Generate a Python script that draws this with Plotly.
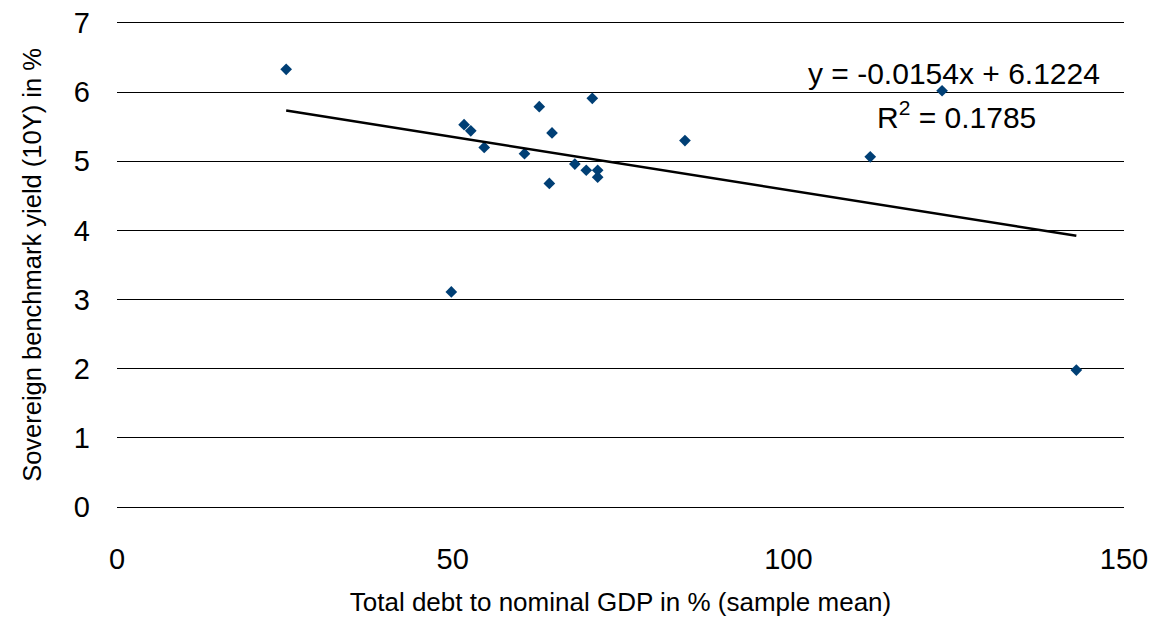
import plotly.graph_objects as go

# Data
debt_to_gdp = [25.2, 49.8, 51.7, 52.7, 54.7, 60.7, 62.9, 64.4, 64.8, 68.2,
               69.9, 70.8, 71.6, 71.6, 84.6, 112.2, 122.9, 142.9]
yield_10y = [6.33, 3.11, 5.53, 5.44, 5.20, 5.11, 5.79, 4.68, 5.41, 4.96,
             4.87, 5.91, 4.87, 4.77, 5.30, 5.065, 6.02, 1.98]

trend_slope = -0.0154
trend_intercept = 6.1224
r_squared = 0.1785

x_ticks = [0, 50, 100, 150]
y_ticks = [0, 1, 2, 3, 4, 5, 6, 7]

FONT = "Liberation Sans, Arial, sans-serif"

x_min, x_max = min(debt_to_gdp), max(debt_to_gdp)
trend_x = [x_min, x_max]
trend_y = [trend_intercept + trend_slope * v for v in trend_x]

fig = go.Figure()
fig.add_trace(go.Scatter(
    x=debt_to_gdp, y=yield_10y, mode="markers",
    marker=dict(symbol="diamond", size=9, color="#003F75", line=dict(width=0)),
    showlegend=False, hoverinfo="x+y",
))
fig.add_trace(go.Scatter(
    x=trend_x, y=trend_y, mode="lines",
    line=dict(color="#000000", width=2.5),
    showlegend=False, hoverinfo="skip",
))

fig.update_layout(
    width=1155, height=617,
    margin=dict(l=117, r=31, t=23, b=110, pad=0, autoexpand=False),
    paper_bgcolor="white", plot_bgcolor="white",
    font=dict(family=FONT, color="#000000"),
    xaxis=dict(
        range=[0, 150], tickvals=x_ticks, showgrid=False, zeroline=False,
        showline=True, mirror=True, linecolor="#000000", linewidth=1.2,
        ticks="", ticklabelstandoff=26, automargin=False,
        tickfont=dict(size=29),
        title=dict(text="Total debt to nominal GDP in % (sample mean)",
                   font=dict(size=26), standoff=32),
    ),
    yaxis=dict(
        range=[0, 7], tickvals=y_ticks, showgrid=True, gridcolor="#000000",
        gridwidth=1.2, zeroline=False, showline=False, ticks="",
        ticklabelstandoff=26, automargin=False, tickfont=dict(size=29),
        title=dict(text="Sovereign benchmark yield (10Y) in %",
                   font=dict(size=25.5), standoff=24),
    ),
)

plot_l, plot_r, plot_t, plot_b = 117, 1124, 23, 506.7
def px_to_domain(px, py):
    return (px - plot_l) / (plot_r - plot_l), (plot_b - py) / (plot_b - plot_t)

ex, ey = px_to_domain(954, 73)
rx, ry = px_to_domain(956, 115)
fig.add_annotation(
    x=ex, y=ey, xref="x domain", yref="y domain", xanchor="center",
    yanchor="middle", text=f"y = {trend_slope}x + {trend_intercept}",
    showarrow=False, font=dict(family=FONT, size=30, color="#000000"),
)
fig.add_annotation(
    x=rx, y=ry, xref="x domain", yref="y domain", xanchor="center",
    yanchor="middle", text=f"R<sup>2</sup> = {r_squared}",
    showarrow=False, font=dict(family=FONT, size=30, color="#000000"),
)

fig.write_html(
    "out.html",
    config={"displayModeBar": False},
    post_script="document.body.style.margin='0';document.body.style.overflow='hidden';",
)
